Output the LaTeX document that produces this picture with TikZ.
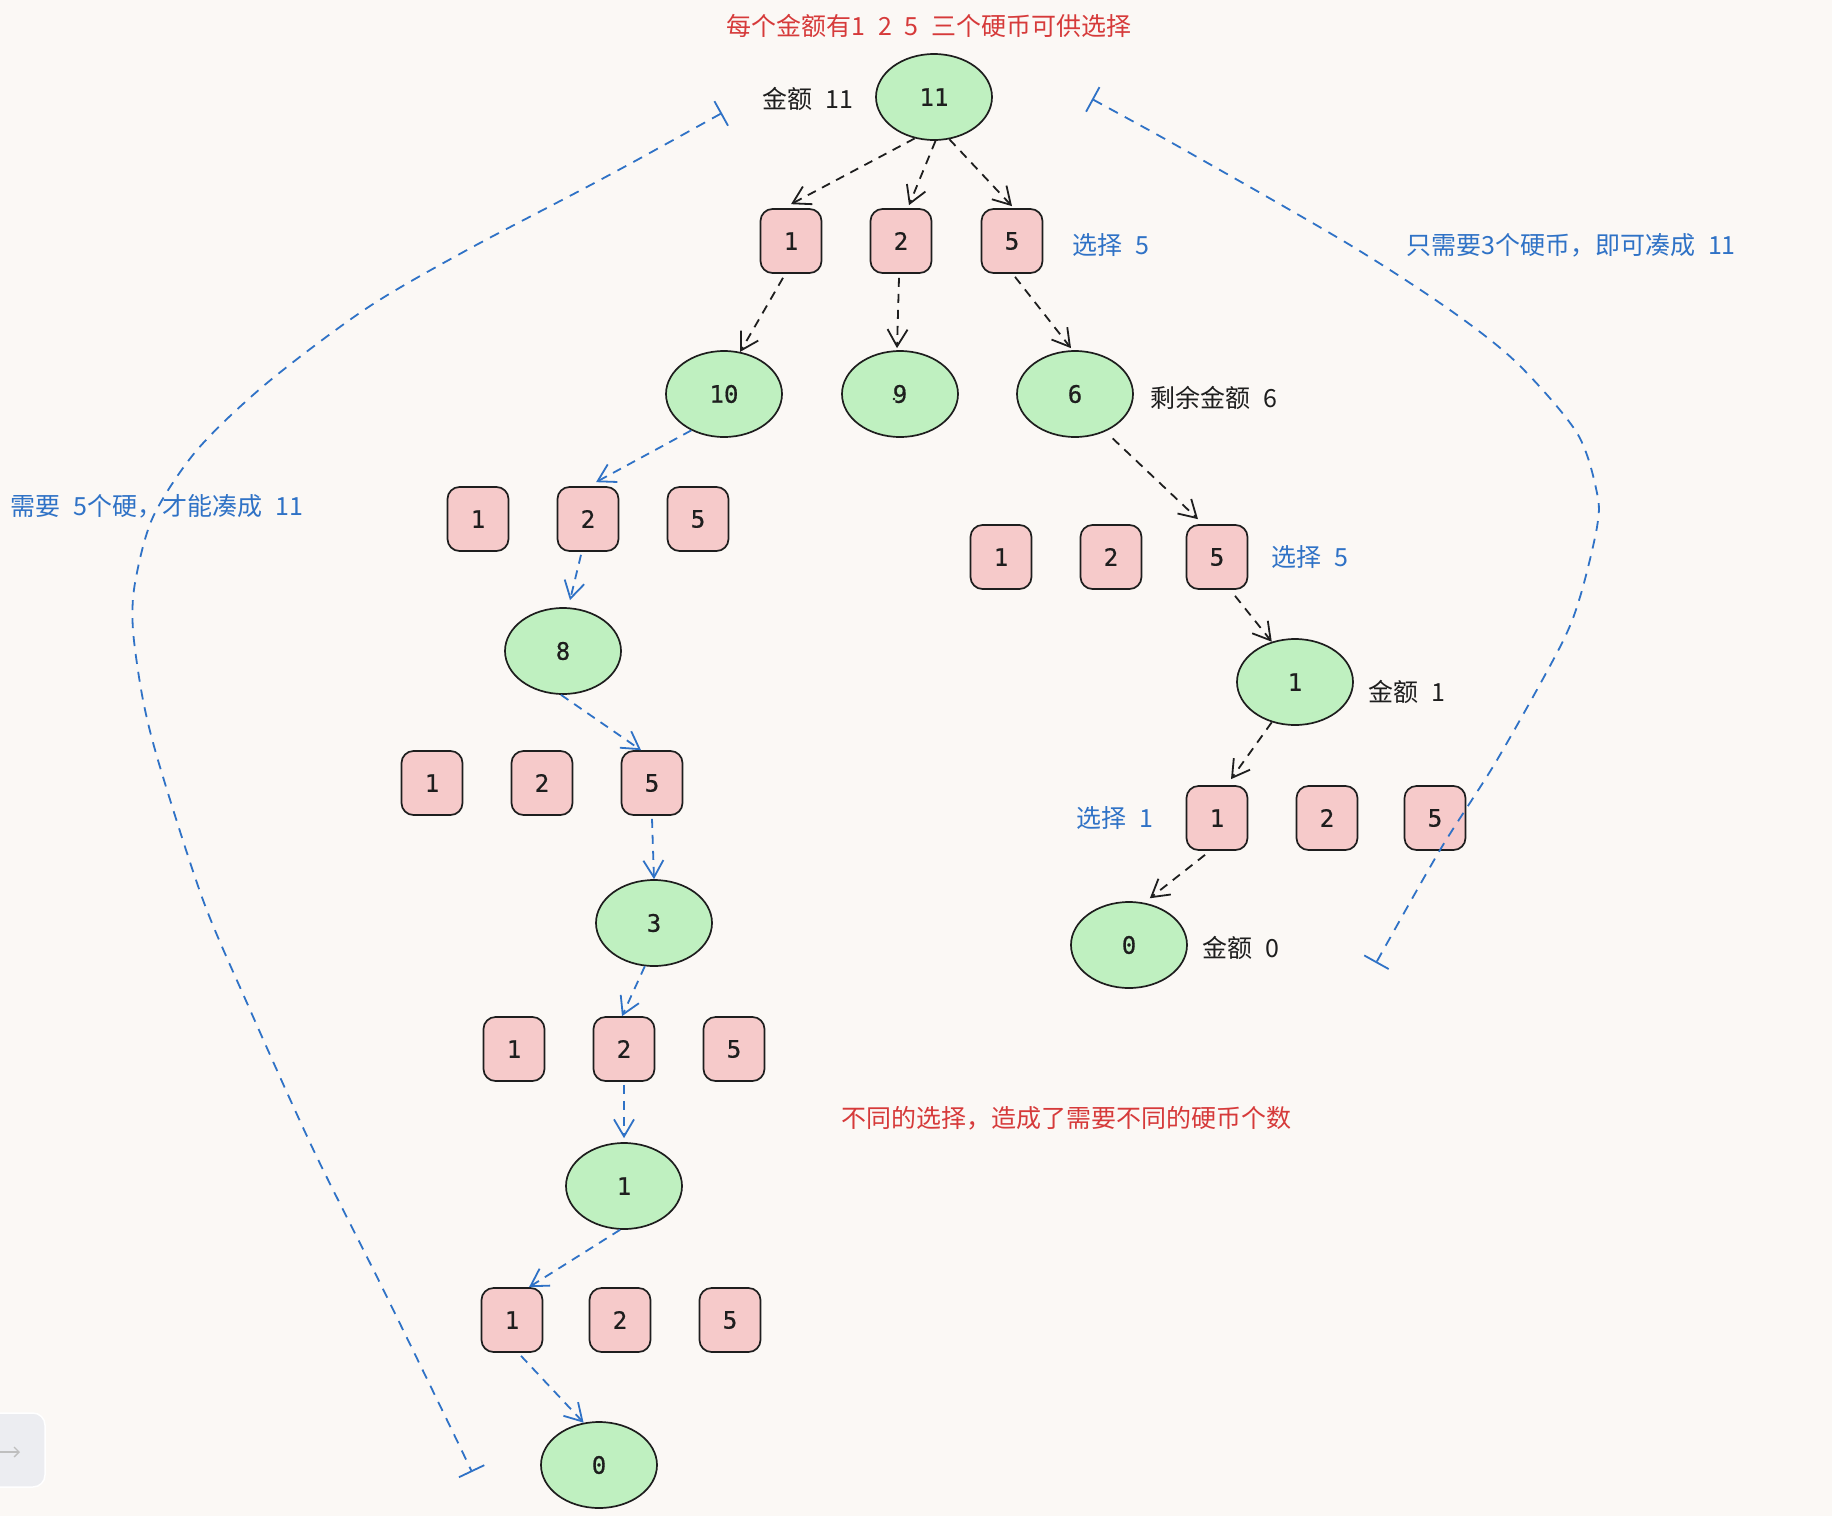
\documentclass[tikz,border=0pt]{standalone}
\usepackage{fontspec}
\setmainfont{Noto Sans CJK SC}
\newfontfamily\monofam{DejaVu Sans Mono}[FakeBold=0.6]
\usetikzlibrary{arrows.meta,shapes.geometric}
\definecolor{bgc}{HTML}{FBF8F5}
\definecolor{ink}{HTML}{1E1E1E}
\definecolor{ellfill}{HTML}{BFF0C0}
\definecolor{boxfill}{HTML}{F6CACA}
\definecolor{redtxt}{HTML}{D63A3A}
\definecolor{bluetxt}{HTML}{2F72C6}
\definecolor{uibox}{HTML}{ECEDF1}
\newcommand\mylabfont{\fontsize{25}{30}\selectfont\setlength{\spaceskip}{13pt}}
\newcommand\mynumfont{\monofam\fontsize{24}{24}\selectfont}
\begin{document}
\begin{tikzpicture}[x=1pt,y=-1pt,
  ell/.style={ellipse, draw=ink, line width=1.7pt, fill=ellfill, minimum width=116pt, minimum height=86pt, inner sep=0pt, font=\mynumfont, text=ink},
  coin/.style={rectangle, rounded corners=12pt, draw=ink, line width=1.7pt, fill=boxfill, minimum width=61pt, minimum height=64pt, inner sep=0pt, font=\mynumfont, text=ink},
  lab/.style={inner sep=0pt, text=ink, font=\mylabfont},
  redlab/.style={lab, text=redtxt},
  bluelab/.style={lab, text=bluetxt},
  blk/.style={draw=ink, line width=1.8pt, dash pattern=on 9pt off 7pt, -{Straight Barb[length=17pt,width=20pt,line width=1.8pt]}},
  blu/.style={blk, draw=bluetxt},
  span/.style={draw=bluetxt, line width=1.8pt, dash pattern=on 10pt off 8pt, {Bar[width=28pt,line width=1.8pt]}-{Bar[width=28pt,line width=1.8pt]}},
]
\useasboundingbox (0,0) rectangle (1832,1516);
\fill[bgc] (0,0) rectangle (1832,1516);

% UI corner element
\node[draw=white, line width=1.5pt, fill=uibox, rounded corners=12pt, minimum width=70pt, minimum height=74pt] (ui) at (10,1450) {};
\draw[black!25, line width=1.3pt, -{Straight Barb[length=5pt,width=10pt]}] (-2,1452) -- (20,1452);

% title
\node[redlab] (title) at (929,26) {每个金额有1 2 5 三个硬币可供选择};

% root
\node[ell] (root) at (934,97) {11};
\node[lab] (lroot) at (808,99) {金额 11};

% row 1
\node[coin] (b1) at (791,241) {1};
\node[coin] (b2) at (901,241) {2};
\node[coin] (b5) at (1012,241) {5};
\node[bluelab] (sel1) at (1111,245) {选择 5};
\node[bluelab] (rnote) at (1571,245) {只需要3个硬币，即可凑成 11};

% row 2
\node[ell] (n10) at (724,394) {10};
\node[ell] (n9) at (900,394) {9};
\node[ell] (n6) at (1075,394) {6};
\fill[ink] (894,399) circle (1.3pt);
\node[lab] (l6) at (1214,398) {剩余金额 6};

% left branch
\node[bluelab] (lnote) at (157,506) {需要 5个硬，才能凑成 11};
\node[coin] (a1) at (478,519) {1};
\node[coin] (a2) at (588,519) {2};
\node[coin] (a5) at (698,519) {5};
\node[ell] (n8) at (563,651) {8};
\node[coin] (c1) at (432,783) {1};
\node[coin] (c2) at (542,783) {2};
\node[coin] (c5) at (652,783) {5};
\node[ell] (n3) at (654,923) {3};
\node[coin] (d1) at (514,1049) {1};
\node[coin] (d2) at (624,1049) {2};
\node[coin] (d5) at (734,1049) {5};
\node[ell] (m1) at (624,1186) {1};
\node[coin] (e1) at (512,1320) {1};
\node[coin] (e2) at (620,1320) {2};
\node[coin] (e5) at (730,1320) {5};
\node[ell] (m0) at (599,1465) {0};

% right branch
\node[coin] (r1b) at (1001,557) {1};
\node[coin] (r2b) at (1111,557) {2};
\node[coin] (r5b) at (1217,557) {5};
\node[bluelab] (sel2) at (1310,557) {选择 5};
\node[ell] (r1) at (1295,682) {1};
\node[lab] (lr1) at (1407,692) {金额 1};
\node[coin] (s1) at (1217,818) {1};
\node[coin] (s2) at (1327,818) {2};
\node[coin] (s5) at (1435,818) {5};
\node[bluelab] (sel3) at (1115,818) {选择 1};
\node[ell] (r0) at (1129,945) {0};
\node[lab] (lr0) at (1241,948) {金额 0};

\node[redlab] (bnote) at (1066,1118) {不同的选择，造成了需要不同的硬币个数};

% black arrows
\draw[blk] (root.245) -- ([yshift=4pt]b1.north);
\draw[blk] (root.272) -- ([xshift=8pt,yshift=3pt]b2.north);
\draw[blk] (root.290) -- ([yshift=2pt]b5.north);
\draw[blk] ([xshift=-8pt,yshift=-4pt]b1.south) -- (n10.69);
\draw[blk] ([xshift=-2pt,yshift=-4pt]b2.south) -- ([xshift=-3pt,yshift=2pt]n9.north);
\draw[blk] ([xshift=3pt,yshift=-3pt]b5.south) -- ([xshift=-4pt,yshift=2pt]n6.north);
\draw[blk, shorten <=10pt] (n6.309) -- ([xshift=-19pt,yshift=5pt]r5b.north);
\draw[blk] ([xshift=18pt,yshift=-6pt]r5b.south) -- (r1.120);
\draw[blk] (r1.240) -- ([xshift=14pt,yshift=6pt]s1.north);
\draw[blk] ([xshift=-12pt,yshift=-4pt]s1.south) -- ([xshift=-4pt,yshift=7pt]r0.58);

% blue arrows
\draw[blu] (n10.228) -- ([xshift=8pt,yshift=4pt]a2.north);
\draw[blu] ([xshift=-7pt,yshift=-3pt]a2.south) -- ([xshift=7pt,yshift=7pt]n8.north);
\draw[blu] ([xshift=-2pt]n8.south) -- ([xshift=-11pt]c5.north);
\draw[blu] ([yshift=-3pt]c5.south) -- (n3.north);
\draw[blu] (n3.258) -- ([xshift=-2pt]d2.north);
\draw[blu] ([yshift=-3pt]d2.south) -- ([yshift=4pt]m1.north);
\draw[blu] (m1.265) -- ([xshift=17pt]e1.north);
\draw[blu] ([xshift=9pt,yshift=-3pt]e1.south) -- (m0.110);

% big spans
\coordinate (Ls) at (722,113);
\coordinate (Le) at (472,1472);
\coordinate (Rs) at (1092,99);
\coordinate (Re) at (1376,963);
\draw[span] plot[smooth, tension=0.5] coordinates {(Ls) (600,180) (467,250) (367,308) (267,383) (197,450) (153,517) (135,583) (133,630) (143,700) (160,767) (203,900) (247,1003) (313,1149) (380,1283) (447,1420) (Le)};
\draw[span] plot[smooth, tension=0.5] coordinates {(Rs) (1197,157) (1350,245) (1450,310) (1517,363) (1577,433) (1597,493) (1597,527) (1580,597) (1560,647) (1497,760) (1440,850) (Re)};
\end{tikzpicture}
\end{document}
